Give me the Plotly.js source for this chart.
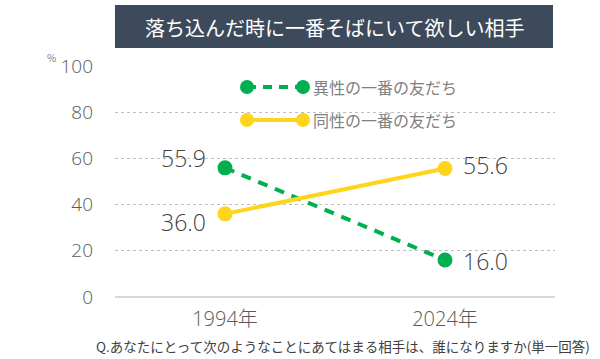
<!DOCTYPE html>
<html><head><meta charset="utf-8">
<script src="https://cdn.plot.ly/plotly-3.0.1.min.js"></script>
<style>html,body{margin:0;padding:0;background:#fff}#chart{width:600px;height:359px}</style>
</head><body><div id="chart"></div>
<script>
const categories = ["1994年", "2024年"];
const seriesNames = ["異性の一番の友だち", "同性の一番の友だち"];
const oppositeSex = [55.9, 16.0];
const sameSex = [36.0, 55.6];
const yTicks = [0, 20, 40, 60, 80, 100];
const titleText = "落ち込んだ時に一番そばにいて欲しい相手";
const noteText = "Q.あなたにとって次のようなことにあてはまる相手は、誰になりますか(単一回答)";

const FONT = '"Noto Sans CJK JP", "Noto Sans", sans-serif';
const NUMFONT = '"Open Sans", "Noto Sans CJK JP", sans-serif';
const GREEN = '#00b050', YELLOW = '#ffd51c';
const x = [0, 1];

const traces = [
  {x: x, y: oppositeSex, name: seriesNames[0], type: 'scatter', mode: 'lines+markers',
   line: {color: GREEN, width: 4, dash: '10px,8px'}, marker: {color: GREEN, size: 15}, cliponaxis: false, showlegend: false},
  {x: x, y: sameSex, name: seriesNames[1], type: 'scatter', mode: 'lines+markers',
   line: {color: YELLOW, width: 4}, marker: {color: YELLOW, size: 15}, cliponaxis: false, showlegend: false}
];

const labelAnn = [];
const fmt = v => v.toFixed(1);
const lblFont = {family: NUMFONT, size: 23, color: '#404040', weight: 300};
labelAnn.push({x: x[0], y: oppositeSex[0], text: fmt(oppositeSex[0]), xanchor: 'right', xshift: -17, yshift: 10, showarrow: false, font: lblFont});
labelAnn.push({x: x[0], y: sameSex[0], text: fmt(sameSex[0]), xanchor: 'right', xshift: -17, yshift: -8, showarrow: false, font: lblFont});
labelAnn.push({x: x[1], y: sameSex[1], text: fmt(sameSex[1]), xanchor: 'left', xshift: 16, yshift: 4, showarrow: false, font: lblFont});
labelAnn.push({x: x[1], y: oppositeSex[1], text: fmt(oppositeSex[1]), xanchor: 'left', xshift: 16, yshift: -1, showarrow: false, font: lblFont});

const L = 115, R = 45, T = 66, B = 62, W = 600, H = 359;
const pw = W - L - R, ph = H - T - B;
const px = X => (X - L) / pw;
const py = Y => (H - B - Y) / ph;

const shapes = [
  {type: 'rect', xref: 'paper', yref: 'paper', x0: px(115), x1: px(553), y0: py(48), y1: py(5), fillcolor: '#3d4a5c', line: {width: 0}, layer: 'above'},
  {type: 'line', xref: 'paper', yref: 'paper', x0: px(247), x1: px(302), y0: py(87), y1: py(87), line: {color: GREEN, width: 4, dash: '9px,7px'}},
  {type: 'circle', xref: 'paper', yref: 'paper', x0: px(240), x1: px(254), y0: py(94), y1: py(80), fillcolor: GREEN, line: {width: 0}},
  {type: 'circle', xref: 'paper', yref: 'paper', x0: px(296), x1: px(310), y0: py(94), y1: py(80), fillcolor: GREEN, line: {width: 0}},
  {type: 'line', xref: 'paper', yref: 'paper', x0: px(247), x1: px(302), y0: py(120), y1: py(120), line: {color: YELLOW, width: 4}},
  {type: 'circle', xref: 'paper', yref: 'paper', x0: px(240), x1: px(254), y0: py(127), y1: py(113), fillcolor: YELLOW, line: {width: 0}},
  {type: 'circle', xref: 'paper', yref: 'paper', x0: px(296), x1: px(310), y0: py(127), y1: py(113), fillcolor: YELLOW, line: {width: 0}}
];

const annotations = labelAnn.concat([
  {xref: 'paper', yref: 'paper', x: px(334), y: py(27), text: titleText, showarrow: false, xanchor: 'center', yanchor: 'middle',
   font: {family: FONT, size: 20, color: '#ffffff'}},
  {xref: 'paper', yref: 'paper', x: px(311), y: py(87), text: seriesNames[0], showarrow: false, xanchor: 'left', yanchor: 'middle',
   font: {family: FONT, size: 16, color: '#808080'}},
  {xref: 'paper', yref: 'paper', x: px(311), y: py(120), text: seriesNames[1], showarrow: false, xanchor: 'left', yanchor: 'middle',
   font: {family: FONT, size: 16, color: '#808080'}},
  {xref: 'paper', yref: 'paper', x: px(58), y: py(57), text: '%', showarrow: false, xanchor: 'right', yanchor: 'middle',
   font: {family: FONT, size: 10, color: '#808080'}},
  {xref: 'paper', yref: 'paper', x: px(592), y: py(346), text: noteText, showarrow: false, xanchor: 'right', yanchor: 'middle',
   font: {family: FONT, size: 13.5, color: '#404040'}}
]);

const layout = {
  width: W, height: H,
  margin: {l: L, r: R, t: T, b: B, pad: 0},
  paper_bgcolor: '#ffffff', plot_bgcolor: '#ffffff',
  showlegend: false,
  font: {family: FONT},
  xaxis: {range: [-0.5, 1.5], tickvals: x, ticktext: categories, showgrid: false, zeroline: false, showline: false,
          ticks: '', ticklabelstandoff: 8, tickfont: {family: NUMFONT, size: 20, color: '#595959', weight: 300}, fixedrange: true},
  yaxis: {range: [0, 100], tickvals: yTicks, showgrid: true, gridcolor: '#bfbfbf', griddash: 'dot', gridwidth: 1,
          zeroline: true, zerolinecolor: '#d9d9d9', zerolinewidth: 2, showline: false, ticks: '',
          ticklabelstandoff: 21, tickfont: {family: NUMFONT, size: 19, color: '#595959', weight: 300}, fixedrange: true},
  shapes: shapes,
  annotations: annotations
};

Plotly.newPlot('chart', traces, layout, {displayModeBar: false, staticPlot: true});
</script></body></html>
